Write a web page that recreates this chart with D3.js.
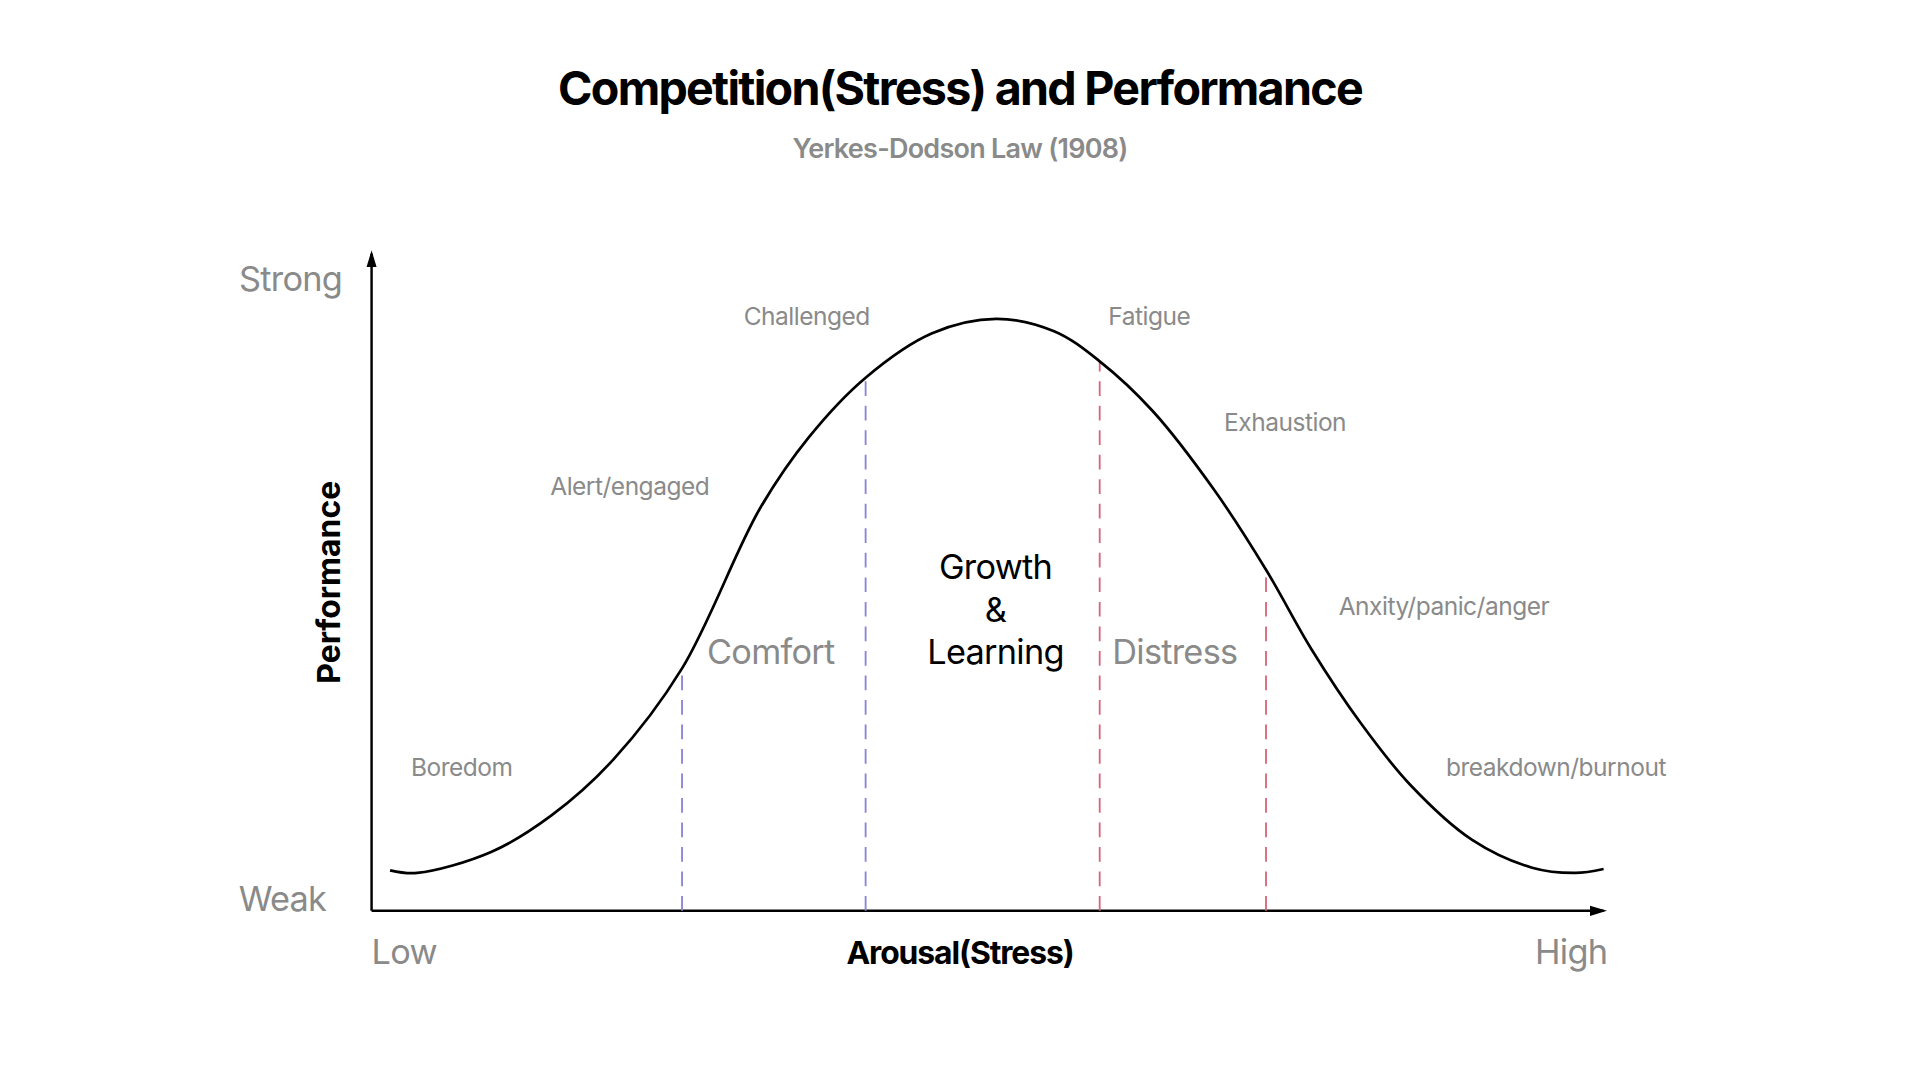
<!DOCTYPE html>
<html>
<head>
<meta charset="utf-8">
<script src="https://d3js.org/d3.v7.min.js"></script>
<style>
  body { margin: 0; background: #fff; }
  svg { display: block; font-family: Inter, "Noto Sans", sans-serif; }
</style>
</head>
<body>
<svg id="chart" width="1920" height="1080" viewBox="0 0 1566 881"></svg>
<script>
// curve samples (arousal 0-100, performance 0-100)
const arousal = [1.5, 3.7, 9.7, 14.6, 19.6, 25.2, 31.5, 35.5, 40.1, 45.5, 50.7, 55.4, 59.1, 63.4, 68.4, 72.6, 76.3, 80.3, 84.3, 89.3, 94.2, 97.7, 100];
const performance = [6.2, 5.8, 9.0, 14.6, 23.1, 37.1, 61.5, 72.5, 81.6, 88.4, 90.6, 88.7, 84.1, 76.5, 64.4, 52.2, 40.0, 28.7, 19.3, 10.9, 6.6, 5.8, 6.4];

// zone borders: x position and height where they meet the curve
const borderX = [25.2, 40.1, 59.1, 72.6];
const borderTop = [37.1, 81.6, 84.1, 52.2];
const borderColor = ["#8a84d8", "#8a84d8", "#d9667a", "#d9667a"];

// state labels along the curve
const stateText = ["Boredom", "Alert/engaged", "Challenged", "Fatigue", "Exhaustion", "Anxity/panic/anger", "breakdown/burnout"];
const stateX = [3.2, 14.5, 30.2, 59.8, 69.2, 78.5, 87.2];
const stateY = [20.6, 63.6, 89.7, 89.7, 73.5, 45.2, 20.6];

const zoneText = ["Comfort", "Distress"];
const zoneX = [32.4, 65.2];

const svg = d3.select("#chart");
const x = d3.scaleLinear().domain([0, 100]).range([303, 1308]);
const y = d3.scaleLinear().domain([0, 100]).range([743, 210]);

// title
svg.append("text").attr("x", 783).attr("y", 86).attr("text-anchor", "middle")
  .attr("font-size", 38).attr("font-weight", 700).attr("letter-spacing", -1.4).text("Competition(Stress) and Performance");
svg.append("text").attr("x", 783).attr("y", 129).attr("text-anchor", "middle")
  .attr("font-size", 22).attr("font-weight", 600).attr("fill", "#8a8a8a").attr("letter-spacing", -0.6).text("Yerkes-Dodson Law (1908)");

// arrow marker
svg.append("defs").append("marker").attr("id", "arrow").attr("viewBox", "0 0 10 10")
  .attr("refX", 8).attr("refY", 5).attr("markerWidth", 7).attr("markerHeight", 7).attr("orient", "auto")
  .append("path").attr("d", "M0,2 L10,5 L0,8 Z").attr("fill", "#000");

// axes
svg.append("line").attr("x1", x(0)).attr("x2", x(0)).attr("y1", y(0)).attr("y2", 207)
  .attr("stroke", "#000").attr("stroke-width", 2).attr("marker-end", "url(#arrow)");
svg.append("line").attr("x1", x(0)).attr("x2", x(100)).attr("y1", y(0)).attr("y2", y(0))
  .attr("stroke", "#000").attr("stroke-width", 2).attr("marker-end", "url(#arrow)");

// dashed zone borders
borderX.forEach(function(d, i) {
  svg.append("line").attr("x1", x(d)).attr("x2", x(d)).attr("y1", y(0)).attr("y2", y(borderTop[i]))
    .attr("stroke", borderColor[i]).attr("stroke-width", 1.5).attr("stroke-dasharray", "12,8");
});

// curve
const pts = arousal.map((a, i) => [a, performance[i]]);
svg.append("path").datum(pts)
  .attr("d", d3.line().x(d => x(d[0])).y(d => y(d[1])).curve(d3.curveCatmullRom))
  .attr("fill", "none").attr("stroke", "#000").attr("stroke-width", 2.2);

const gray = "#8a8a8a";
stateText.forEach(function(t, i) {
  svg.append("text").attr("x", x(stateX[i])).attr("y", y(stateY[i])).attr("font-size", 20)
    .attr("fill", gray).attr("letter-spacing", -0.4).text(t);
});
zoneText.forEach(function(t, i) {
  svg.append("text").attr("x", x(zoneX[i])).attr("y", 542).attr("text-anchor", "middle")
    .attr("font-size", 28).attr("fill", gray).attr("letter-spacing", -0.6).text(t);
});
["Growth", "&", "Learning"].forEach(function(t, i) {
  svg.append("text").attr("x", 812).attr("y", 472 + i * 35).attr("text-anchor", "middle")
    .attr("font-size", 28).attr("fill", "#000").attr("letter-spacing", -0.6).text(t);
});

// axis end labels
svg.append("text").attr("x", 279).attr("y", 237).attr("text-anchor", "end").attr("font-size", 28).attr("fill", gray).attr("letter-spacing", -0.6).text("Strong");
svg.append("text").attr("x", 266).attr("y", 743).attr("text-anchor", "end").attr("font-size", 28).attr("fill", gray).attr("letter-spacing", -0.6).text("Weak");
svg.append("text").attr("x", 303).attr("y", 786).attr("font-size", 28).attr("fill", gray).attr("letter-spacing", -0.6).text("Low");
svg.append("text").attr("x", 1311).attr("y", 786).attr("text-anchor", "end").attr("font-size", 28).attr("fill", gray).attr("letter-spacing", -0.6).text("High");
svg.append("text").attr("x", 783).attr("y", 786).attr("text-anchor", "middle").attr("font-size", 26).attr("font-weight", 700).attr("letter-spacing", -0.9).text("Arousal(Stress)");
svg.append("text").attr("transform", "translate(277,475) rotate(-90)").attr("text-anchor", "middle")
  .attr("font-size", 26).attr("font-weight", 700).text("Performance");
</script>
</body>
</html>
